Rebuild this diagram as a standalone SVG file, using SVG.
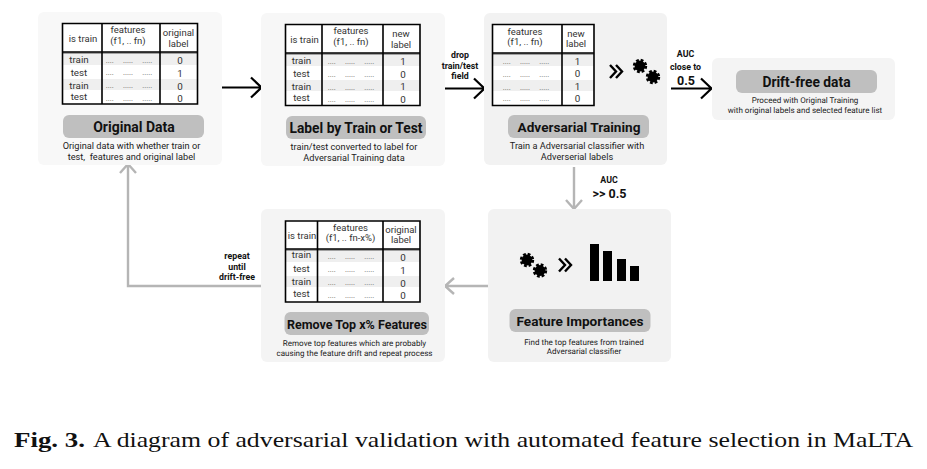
<svg xmlns="http://www.w3.org/2000/svg" xmlns:xlink="http://www.w3.org/1999/xlink" width="927" height="469" viewBox="0 0 927 469">
<style>
text{font-family:Roboto,"Liberation Sans",sans-serif;fill:#222;text-anchor:middle;white-space:pre}
.box{rx:6px}
.pill{fill:#bfbfbf;rx:6px}
.tb{fill:#fff;stroke:none}
.band{fill:#efefef}
.ln{stroke:#000;stroke-width:1.6;fill:none}
.hl{stroke:#555;stroke-width:1;fill:none}
.h{font-size:9.5px;fill:#333}
.c{font-size:9.8px;fill:#333}
.d{font-size:7.5px;fill:#666;text-rendering:geometricPrecision}
.t{font-size:13.7px;font-weight:700;fill:#111}
.s{font-size:9.2px;fill:#222}
.s2{font-size:8.05px;fill:#222;text-rendering:geometricPrecision}
.b{font-size:8.8px;font-weight:700;fill:#111}
.bb{font-size:12.5px;font-weight:700;fill:#111}
.k{stroke:#000;stroke-width:2.2;fill:none}
.g{stroke:#b5b5b5;stroke-width:2.4;fill:none}
.cap{font-family:"Liberation Serif",serif;font-size:21px;text-anchor:start;fill:#111}
</style>
<defs>
<g id="gear"><circle r="5.4" fill="#000"/><circle r="5.8" fill="none" stroke="#000" stroke-width="2.8" stroke-dasharray="2.7 1.855"/></g>
<path id="chev" d="M0 0L6 6.500L0 13M6 0L12 6.500L6 13" fill="none" stroke="#000" stroke-width="2.400"/>
</defs>
<rect width="927" height="469" fill="#fff"/>

<g id="connectors">
<path class="k" d="M222 87.500H261M251 77.500L261.500 87.500L251 97.500"/>
<path class="k" d="M445 88.500H484M474 78.500L484.500 88.500L474 98.500"/>
<path class="k" d="M671 88.500H711M701 78.500L711.500 88.500L701 98.500"/>
<path class="g" d="M574 167V209M566 200L574 209L582 200"/>
<path class="g" d="M488 286H445M454 278L445 286L454 294"/>
<path class="g" d="M261 286H128V164M120 173L128 164L136 173"/>
</g>

<g id="original-data">
<rect class="box" x="38" y="12" width="184" height="153" fill="#f8f8f8"/>
<rect class="tb" x="62.500" y="23.500" width="135" height="80.500"/>
<rect class="band" x="63" y="53" width="134" height="12"/><rect class="band" x="63" y="79" width="134" height="11"/>
<path class="hl" d="M62.500 53H197.500"/><path class="ln" d="M62.500 23.500H197.500V104H62.500ZM102 23.500V104M160 23.500V104M62.500 52H197.500"/>
<text class="h" x="83" y="42">is train</text><text class="h" x="128" y="33">features</text><text class="h" x="128" y="44">(f1, .. fn)</text><text class="h" x="178.500" y="36">original</text><text class="h" x="178.500" y="46.500">label</text>
<text class="c" x="79" y="62.500">train</text><text class="c" x="79" y="75.500">test</text><text class="c" x="79" y="88.500">train</text><text class="c" x="79" y="99.500">test</text>
<text class="c" x="180" y="63.500">0</text><text class="c" x="180" y="76.500">1</text><text class="c" x="180" y="89.500">0</text><text class="c" x="180" y="101.500">0</text>
<text class="d" x="129" y="62.500">....     .....     .....</text><text class="d" x="129" y="75">....     .....     .....</text><text class="d" x="129" y="88">....     .....     .....</text><text class="d" x="129" y="100.500">....     .....     .....</text>
<rect class="pill" x="63" y="115" width="141" height="23"/>
<text class="t" x="134" y="131.500" style="font-size:14px">Original Data</text>
<text class="s" x="131.500" y="148.500">Original data with whether train or</text><text class="s" x="131.500" y="159.500">test,  features and original label</text>
</g>

<g id="label-by-train-or-test">
<rect class="box" x="261" y="13" width="184" height="153" fill="#f7f7f7"/>
<rect class="tb" x="285.500" y="24.500" width="134.500" height="81"/>
<rect class="band" x="286" y="54" width="134" height="12"/><rect class="band" x="286" y="80" width="134" height="11"/>
<path class="hl" d="M285.500 54H420"/><path class="ln" d="M285.500 24.500H420V105.500H285.500ZM322 24.500V105.500M383 24.500V105.500M285.500 53H420"/>
<text class="h" x="304.500" y="43">is train</text><text class="h" x="351" y="34">features</text><text class="h" x="351" y="44.500">(f1, .. fn)</text><text class="h" x="401" y="37">new</text><text class="h" x="401" y="47.500">label</text>
<text class="c" x="301.500" y="64">train</text><text class="c" x="301.500" y="76.500">test</text><text class="c" x="301.500" y="89.500">train</text><text class="c" x="301.500" y="100.500">test</text>
<text class="c" x="403" y="64.500">1</text><text class="c" x="403" y="78">0</text><text class="c" x="403" y="90">1</text><text class="c" x="403" y="102.500">0</text>
<text class="d" x="351" y="64">....     .....     .....</text><text class="d" x="351" y="76.500">....     .....     .....</text><text class="d" x="351" y="89.500">....     .....     .....</text><text class="d" x="351" y="102">....     .....     .....</text>
<rect class="pill" x="286" y="116" width="140" height="23"/>
<text class="t" x="356" y="132.500" style="font-size:13.8px">Label by Train or Test</text>
<text class="s" x="354" y="150">train/test converted to label for</text><text class="s" x="354" y="160.500">Adversarial Training data</text>
</g>

<g id="adversarial-training">
<rect class="box" x="484" y="13" width="183" height="152" fill="#f2f2f2"/>
<rect class="tb" x="492.500" y="24.500" width="101.500" height="81"/>
<rect class="band" x="493" y="54" width="101" height="12"/><rect class="band" x="493" y="80" width="101" height="11"/>
<path class="hl" d="M492.500 54H594"/><path class="ln" d="M492.500 24.500H594V105.500H492.500ZM562 24.500V105.500M492.500 53H594"/>
<text class="h" x="525" y="35">features</text><text class="h" x="525" y="45">(f1, .. fn)</text><text class="h" x="576" y="37">new</text><text class="h" x="576" y="47">label</text>
<text class="c" x="577.500" y="64.500">1</text><text class="c" x="577.500" y="77">0</text><text class="c" x="577.500" y="90">1</text><text class="c" x="577.500" y="102">0</text>
<text class="d" x="526" y="64">....     .....     .....</text><text class="d" x="526" y="76.500">....     .....     .....</text><text class="d" x="526" y="89.500">....     .....     .....</text><text class="d" x="526" y="100.500">....     .....     .....</text>
<use xlink:href="#chev" x="610" y="65"/>
<use xlink:href="#gear" x="640" y="66"/><use xlink:href="#gear" x="653" y="77"/>
<rect class="pill" x="508" y="115" width="141" height="23"/>
<text class="t" x="579" y="131.500" style="font-size:13.6px">Adversarial Training</text>
<text class="s" x="577" y="148.500">Train a Adversarial classifier with</text><text class="s" x="577" y="159.500">Adverserial labels</text>
</g>

<g id="drift-free-data">
<rect class="box" x="712" y="58" width="183" height="62" fill="#f4f4f4"/>
<rect class="pill" x="736" y="70" width="141" height="23"/>
<text class="t" x="806.500" y="87" style="font-size:13.8px">Drift-free data</text>
<text class="s2" x="805" y="103">Proceed with Original Training</text><text class="s2" x="805" y="112.500">with original labels and selected feature list</text>
</g>

<g id="feature-importances">
<rect class="box" x="488" y="209" width="183" height="153" fill="#f2f2f2"/>
<use xlink:href="#gear" x="527" y="260"/><use xlink:href="#gear" x="540" y="270.500"/>
<use xlink:href="#chev" x="559" y="258.500"/>
<rect x="590" y="244" width="9" height="37" fill="#000"/><rect x="603" y="251" width="9" height="30" fill="#000"/><rect x="617" y="259" width="9" height="22" fill="#000"/><rect x="630" y="266" width="9" height="15" fill="#000"/>
<rect class="pill" x="509.500" y="309" width="141" height="23"/>
<text class="t" x="580" y="325.500" style="font-size:13.6px">Feature Importances</text>
<text class="s2" x="584" y="344.500">Find the top features from trained</text><text class="s2" x="584" y="354">Adversarial classifier</text>
</g>

<g id="remove-top-features">
<rect class="box" x="261" y="209" width="184" height="153" fill="#f4f4f4"/>
<rect class="tb" x="285.500" y="221" width="134.500" height="81"/>
<rect class="band" x="286" y="250" width="134" height="12"/><rect class="band" x="286" y="276" width="134" height="11"/>
<path class="hl" d="M285.500 250H420"/><path class="ln" d="M285.500 221H420V302H285.500ZM317.500 221V302M383 221V302M285.500 249H420"/>
<text class="h" x="302" y="239">is train</text><text class="h" x="350.500" y="231">features</text><text class="h" x="350.500" y="240.500">(f1, .. fn-x%)</text><text class="h" x="401" y="233">original</text><text class="h" x="401" y="243">label</text>
<text class="c" x="301.500" y="258">train</text><text class="c" x="301.500" y="272">test</text><text class="c" x="301.500" y="285">train</text><text class="c" x="301.500" y="297">test</text>
<text class="c" x="403" y="261">0</text><text class="c" x="403" y="274">1</text><text class="c" x="403" y="286.500">0</text><text class="c" x="403" y="298.500">0</text>
<text class="d" x="351" y="259">....     .....     .....</text><text class="d" x="351" y="272">....     .....     .....</text><text class="d" x="351" y="285">....     .....     .....</text><text class="d" x="351" y="297.500">....     .....     .....</text>
<rect class="pill" x="284.500" y="312" width="144.500" height="23"/>
<text class="t" x="357" y="329" style="font-size:12.5px">Remove Top x% Features</text>
<text class="s2" x="354.500" y="346">Remove top features which are probably</text><text class="s2" x="354.500" y="355.500">causing the feature drift and repeat process</text>
</g>

<g id="label-drop"><text class="b" x="460" y="58">drop</text><text class="b" x="460" y="69">train/test</text><text class="b" x="460" y="79">field</text></g>
<g id="label-auc-close"><text class="b" x="685.500" y="57">AUC</text><text class="b" x="685.500" y="70">close to</text><text class="bb" x="686" y="85">0.5</text></g>
<g id="label-auc-high"><text class="b" x="609" y="183">AUC</text><text class="bb" x="609.500" y="198">&gt;&gt; 0.5</text></g>
<g id="label-repeat"><text class="b" x="237" y="259">repeat</text><text class="b" x="237" y="270">until</text><text class="b" x="237" y="280">drift-free</text></g>

<text class="cap" x="14" y="447" font-weight="700" textLength="71" lengthAdjust="spacingAndGlyphs">Fig. 3.</text>
<text class="cap" x="93" y="447" textLength="820" lengthAdjust="spacingAndGlyphs">A diagram of adversarial validation with automated feature selection in MaLTA</text>
</svg>
